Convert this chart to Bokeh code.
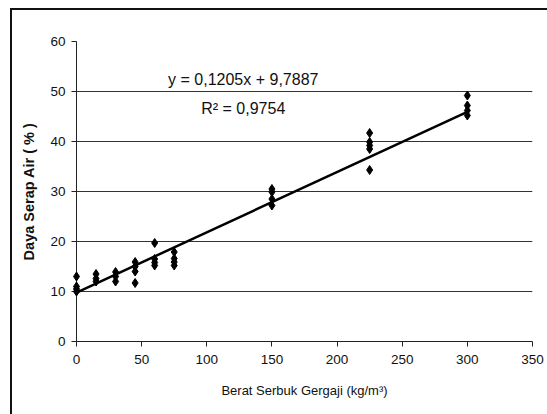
from bokeh.plotting import figure
from bokeh.models import Label, FixedTicker
from bokeh.embed import file_html
from bokeh.resources import INLINE

# Data
x_vals = [0, 0, 0, 0,
          15, 15, 15,
          30, 30, 30,
          45, 45, 45, 45,
          60, 60, 60, 60,
          75, 75, 75, 75,
          150, 150, 150, 150,
          225, 225, 225, 225, 225,
          300, 300, 300, 300]
y_vals = [13.0, 11.0, 10.5, 10.0,
          13.5, 12.6, 12.0,
          13.9, 13.0, 12.0,
          15.9, 15.0, 14.0, 11.7,
          19.7, 16.5, 15.8, 15.2,
          17.9, 16.6, 15.9, 15.2,
          30.5, 29.9, 28.5, 27.2,
          41.7, 39.9, 39.2, 38.5, 34.3,
          49.2, 47.2, 46.2, 45.2]
slope = 0.1205
intercept = 9.7887
fit_x = [0, 300]
eq_text = "y = 0,1205x + 9,7887"
r2_text = "R² = 0,9754"
x_ticks = [0, 50, 100, 150, 200, 250, 300, 350]
y_ticks = [0, 10, 20, 30, 40, 50, 60]

FONT = "Liberation Sans"

p = figure(width=547, height=414, x_range=(0, 350), y_range=(0, 60),
           output_backend="svg", toolbar_location=None,
           min_border_left=76, min_border_right=15,
           min_border_top=41, min_border_bottom=73)
p.outline_line_color = None
p.background_fill_color = "white"
p.border_fill_color = None
p.styles = {
    "background": ("linear-gradient(#111,#111) 10px 8px / 2px calc(100% - 8px) no-repeat, "
                   "linear-gradient(#111,#111) 10px 8px / calc(100% - 10px) 2px no-repeat, "
                   "white"),
}

p.xgrid.grid_line_color = None
p.ygrid.grid_line_color = "#333333"
p.ygrid.grid_line_width = 1
p.ygrid.ticker = FixedTicker(ticks=y_ticks)

for ax in (p.xaxis, p.yaxis):
    ax.axis_line_color = "#222222"
    ax.major_tick_line_color = "#222222"
    ax.minor_tick_line_color = None
    ax.major_tick_in = 0
    ax.major_tick_out = 5
    ax.major_label_text_font = FONT
    ax.major_label_text_font_size = "13.5px"
    ax.major_label_text_color = "#111111"
    ax.axis_label_text_font = FONT
    ax.axis_label_text_color = "#111111"

p.xaxis.ticker = FixedTicker(ticks=x_ticks)
p.yaxis.ticker = FixedTicker(ticks=y_ticks)
p.xaxis.major_label_standoff = 8
p.yaxis.major_label_standoff = 6
p.xaxis.axis_label = "Berat Serbuk Gergaji (kg/m³)"
p.xaxis.axis_label_text_font_size = "13px"
p.xaxis.axis_label_text_font_style = "normal"
p.xaxis.axis_label_standoff = 16
p.yaxis.axis_label = "Daya Serap Air ( % )"
p.yaxis.axis_label_text_font_size = "14.5px"
p.yaxis.axis_label_text_font_style = "bold"
p.yaxis.axis_label_standoff = 10

fit_y = [slope * xv + intercept for xv in fit_x]
p.line(fit_x, fit_y, line_color="black", line_width=2.5)
p.scatter(x_vals, y_vals, marker="diamond", size=9, fill_color="black",
          line_color="black", level="overlay")

p.add_layout(Label(x=128, y=50.8, text=eq_text, text_align="center",
                   text_font=FONT, text_font_size="16px", text_color="#111111"))
p.add_layout(Label(x=128, y=45.0, text=r2_text, text_align="center",
                   text_font=FONT, text_font_size="16px", text_color="#111111"))

open("out.html", "w").write(file_html(p, INLINE))
